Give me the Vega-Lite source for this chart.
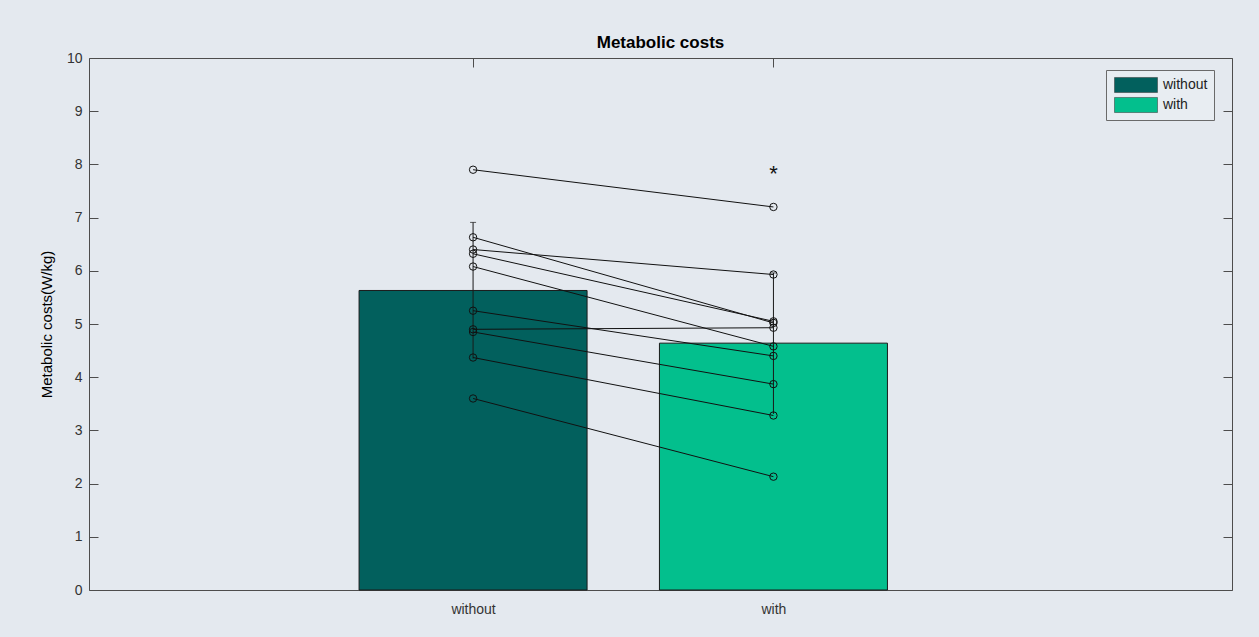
{
  "$schema": "https://vega.github.io/schema/vega-lite/v6.json",
  "width": 1143,
  "height": 532,
  "autosize": {"type": "none"},
  "padding": {"left": 89, "top": 58, "right": 27, "bottom": 47},
  "background": "#e4e9ef",
  "config": {
    "font": "Liberation Sans",
    "view": {"stroke": "#4d4d4d", "strokeWidth": 1, "fill": "#e4e9ef"},
    "axis": {"domain": false, "grid": false, "tickColor": "#4d4d4d", "tickWidth": 1, "labelFont": "Liberation Sans", "labelColor": "#333333", "labelFontSize": 14, "titleFont": "Liberation Sans"}
  },
  "title": {"text": "Metabolic costs", "fontSize": 17, "fontWeight": "bold", "color": "#000000", "offset": -1, "anchor": "middle", "font": "Liberation Sans"},
  "datasets": {
    "summary": [
      {"condition": "without", "group": 1, "mean": 5.63, "lo": 4.35, "hi": 6.91},
      {"condition": "with", "group": 2, "mean": 4.64, "lo": 3.31, "hi": 5.96}
    ],
    "subjects": [
      {"subject": "S1", "condition": "without", "group": 1, "value": 7.90},
      {"subject": "S1", "condition": "with", "group": 2, "value": 7.20},
      {"subject": "S2", "condition": "without", "group": 1, "value": 6.63},
      {"subject": "S2", "condition": "with", "group": 2, "value": 5.02},
      {"subject": "S3", "condition": "without", "group": 1, "value": 6.40},
      {"subject": "S3", "condition": "with", "group": 2, "value": 5.93},
      {"subject": "S4", "condition": "without", "group": 1, "value": 6.32},
      {"subject": "S4", "condition": "with", "group": 2, "value": 5.05},
      {"subject": "S5", "condition": "without", "group": 1, "value": 6.08},
      {"subject": "S5", "condition": "with", "group": 2, "value": 4.58},
      {"subject": "S6", "condition": "without", "group": 1, "value": 5.25},
      {"subject": "S6", "condition": "with", "group": 2, "value": 4.40},
      {"subject": "S7", "condition": "without", "group": 1, "value": 4.90},
      {"subject": "S7", "condition": "with", "group": 2, "value": 4.93},
      {"subject": "S8", "condition": "without", "group": 1, "value": 4.85},
      {"subject": "S8", "condition": "with", "group": 2, "value": 3.87},
      {"subject": "S9", "condition": "without", "group": 1, "value": 4.37},
      {"subject": "S9", "condition": "with", "group": 2, "value": 3.28},
      {"subject": "S10", "condition": "without", "group": 1, "value": 3.60},
      {"subject": "S10", "condition": "with", "group": 2, "value": 2.13}
    ],
    "marks": [
      {"condition": "with", "group": 2, "value": 7.9, "label": "*"}
    ]
  },
  "layer": [
    {
      "data": {"name": "summary"},
      "mark": {"type": "bar", "width": 228, "stroke": "#1a1a1a", "strokeWidth": 1},
      "encoding": {
        "x": {"field": "group", "type": "quantitative", "scale": {"domain": [-0.262, 3.51], "nice": false, "zero": false},
              "axis": {"orient": "bottom", "title": null, "values": [1, 2], "labelExpr": "datum.value == 1 ? 'without' : 'with'", "labelAngle": 0, "tickSize": -9, "labelPadding": 21, "zindex": 0}},
        "y": {"field": "mean", "type": "quantitative", "scale": {"domain": [0, 10], "nice": false, "zero": true},
              "axis": {"orient": "left", "values": [0,1,2,3,4,5,6,7,8,9,10], "tickSize": -9, "labelPadding": 16, "title": "Metabolic costs(W/kg)", "titleFontSize": 15, "titleFontWeight": "normal", "titleColor": "#000000", "titlePadding": 12, "zindex": 0}},
        "color": {"field": "condition", "type": "nominal",
                  "scale": {"domain": ["without", "with"], "range": ["#02605d", "#03bf8d"]},
                  "legend": {"orient": "none", "legendX": 1017, "legendY": 12, "title": null, "direction": "vertical",
                             "symbolType": "M-1,-0.35H1V0.35H-1Z", "symbolSize": 1849, "symbolStrokeColor": "#333333", "symbolStrokeWidth": 0.5,
                             "labelFont": "Liberation Sans", "labelFontSize": 14, "labelColor": "#222222", "labelOffset": 5,
                             "clipHeight": 18, "strokeColor": "#6a6a6a", "fillColor": "#e8edf2", "padding": 6, "rowPadding": 2, "symbolOffset": 2}}
      }
    },
    {
      "data": {"name": "summary"},
      "mark": {"type": "rule", "color": "#1a1a1a", "strokeWidth": 1},
      "encoding": {
        "x": {"field": "group", "type": "quantitative", "axis": null},
        "y": {"field": "lo", "type": "quantitative", "axis": null},
        "y2": {"field": "hi"}
      }
    },
    {
      "data": {"name": "summary"},
      "mark": {"type": "tick", "orient": "horizontal", "size": 6, "thickness": 1, "color": "#1a1a1a"},
      "encoding": {
        "x": {"field": "group", "type": "quantitative", "axis": null},
        "y": {"field": "hi", "type": "quantitative", "axis": null}
      }
    },
    {
      "data": {"name": "subjects"},
      "mark": {"type": "line", "color": "#111111", "strokeWidth": 1},
      "encoding": {
        "x": {"field": "group", "type": "quantitative", "axis": null},
        "y": {"field": "value", "type": "quantitative", "axis": null},
        "detail": {"field": "subject", "type": "nominal"}
      }
    },
    {
      "data": {"name": "subjects"},
      "mark": {"type": "point", "shape": "circle", "filled": false, "stroke": "#111111", "strokeWidth": 1, "size": 55, "opacity": 1},
      "encoding": {
        "x": {"field": "group", "type": "quantitative", "axis": null},
        "y": {"field": "value", "type": "quantitative", "axis": null}
      }
    },
    {
      "data": {"name": "marks"},
      "mark": {"type": "text", "fontSize": 22, "color": "#111111", "baseline": "middle", "dy": 4, "font": "Liberation Sans"},
      "encoding": {
        "x": {"field": "group", "type": "quantitative", "axis": null},
        "y": {"field": "value", "type": "quantitative", "axis": null},
        "text": {"field": "label"}
      }
    },
    {
      "data": {"name": "summary"},
      "mark": {"type": "rule", "opacity": 0},
      "encoding": {
        "x": {"field": "group", "type": "quantitative", "axis": {"orient": "top", "title": null, "labels": false, "values": [1, 2], "tickSize": -9, "zindex": 1}},
        "y": {"field": "mean", "type": "quantitative", "axis": {"orient": "right", "title": null, "labels": false, "values": [0,1,2,3,4,5,6,7,8,9,10], "tickSize": -9, "zindex": 1}}
      }
    }
  ],
  "resolve": {"axis": {"x": "independent", "y": "independent"}}
}
